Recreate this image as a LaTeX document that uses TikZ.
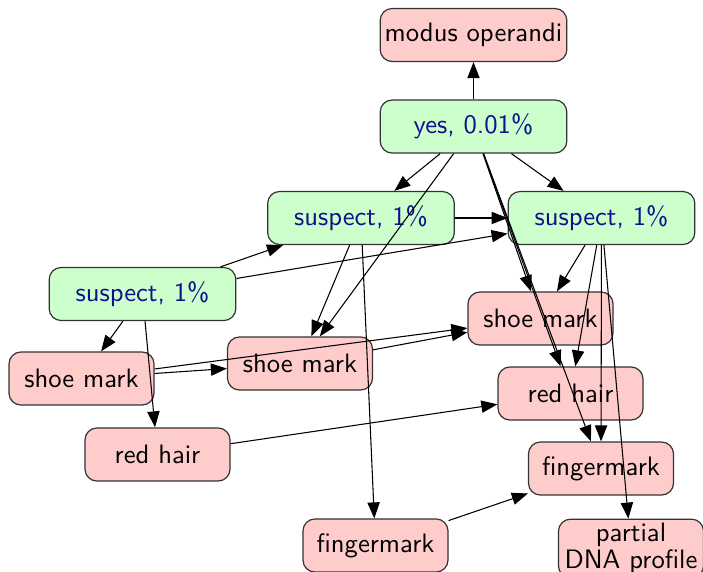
\documentclass[tikz,border=0pt]{standalone}
\usetikzlibrary{arrows.meta}
\definecolor{hypfill}{HTML}{CCFFCC}
\definecolor{evfill}{HTML}{FFCCCC}
\definecolor{hyptext}{RGB}{16,16,140}
\definecolor{boxline}{HTML}{333333}
\tikzset{
  hyp/.style={draw=boxline, fill=hypfill, rounded corners=4.5pt, line width=0.45pt,
    minimum width=70pt, minimum height=19.9pt, inner sep=1pt,
    text=hyptext, font=\sffamily},
  ev/.style={draw=boxline, fill=evfill, rounded corners=4.5pt, line width=0.45pt,
    minimum width=54.4pt, minimum height=19.9pt, inner sep=1pt,
    text=black, font=\sffamily},
  link/.style={draw=black, line width=0.4pt, -{Triangle[length=6pt,width=4.6pt]}}
}
\begin{document}
\begin{tikzpicture}[x=0.375pt,y=-0.375pt]
\useasboundingbox (0,0) rectangle (703,571);
% hypothesis nodes
\node[hyp] (yes) at (473.5,126.5) {yes, 0.01\%};
\node[hyp] (sa)  at (361,218)     {suspect, 1\%};
\node[hyp] (sb)  at (601.5,218)   {suspect, 1\%};
\node[hyp] (sc)  at (142.5,294)   {suspect, 1\%};
% evidence nodes
\node[ev, minimum width=70pt] (mo) at (473.5,35) {modus operandi};
\node[ev] (shoeA) at (81.5,378.5)  {shoe mark};
\node[ev] (shoeB) at (300,363.5)   {shoe mark};
\node[ev] (shoeC) at (540.5,318.5) {shoe mark};
\node[ev] (hairA) at (157.5,454.5) {red hair};
\node[ev] (hairB) at (570.5,393.5) {red hair};
\node[ev] (fingA) at (601,468.5)   {fingermark};
\node[ev] (fingB) at (375.5,545.5) {fingermark};
\node[ev, align=center, inner sep=0.5pt, minimum height=22pt] (dna) at (631,548.5)
  {partial\\[-2pt]DNA profile};
% dependencies
\draw[link] (yes) -- (mo);
\draw[link] (yes) -- (sa);
\draw[link] (yes) -- (sb);
\draw[link] (yes) -- (shoeB);
\draw[link] (yes) -- (shoeC);
\draw[link] (yes) -- (hairB);
\draw[link] (yes) -- (fingA);
\draw[link] (sa) -- (sb);
\draw[link] (sa) -- (shoeB);
\draw[link] (sa) -- (fingB);
\draw[link] (sc) -- (sa);
\draw[link] (sc) -- (sb);
\draw[link] (sc) -- (shoeA);
\draw[link] (sc) -- (hairA);
\draw[link] (shoeA) -- (shoeB);
\draw[link] (shoeA) -- (shoeC);
\draw[link] (shoeB) -- (shoeC);
\draw[link] (hairA) -- (hairB);
\draw[link] (sb) -- (shoeC);
\draw[link] (sb) -- (hairB);
\draw[link] (sb) -- (fingA);
\draw[link] (sb) -- (dna);
\draw[link] (fingB) -- (fingA);
\end{tikzpicture}
\end{document}
